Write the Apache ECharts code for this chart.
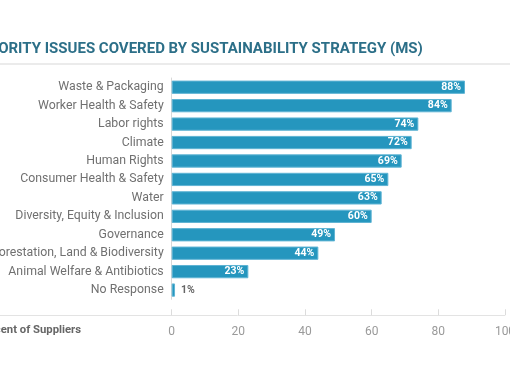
<!DOCTYPE html>
<html><head><meta charset="utf-8">
<script src="https://cdn.jsdelivr.net/npm/echarts@6/dist/echarts.min.js"></script>
<style>
html,body{margin:0;padding:0;width:510px;height:382px;overflow:hidden;background:#fff;}
#c{position:absolute;left:-30px;top:0;width:560px;height:382px;}
</style></head>
<body><div id="c"></div>
<script>
const titleText = 'PRIORITY ISSUES COVERED BY SUSTAINABILITY STRATEGY (MS)';
const axisName = 'Percent of Suppliers';
const categories = ['Waste & Packaging','Worker Health & Safety','Labor rights','Climate','Human Rights','Consumer Health & Safety','Water','Diversity, Equity & Inclusion','Governance','Deforestation, Land & Biodiversity','Animal Welfare & Antibiotics','No Response'];
const values = [88,84,74,72,69,65,63,60,49,44,23,1];
const xTicks = [0,20,40,60,80,100];

const chart = echarts.init(document.getElementById('c'));
const data = values.map(function(v, i){
  if (v < 5) {
    return {value: v, label: {position: 'right', color: '#666', distance: 6}};
  }
  return v;
});
chart.setOption({
  animation: false,
  textStyle: {fontFamily: 'Roboto'},
  grid: {left: 201.7, right: 25, top: 78, bottom: 82.7, containLabel: false},
  graphic: [
    {type: 'text', left: 4.5, top: 42, style: {text: titleText, fill: '#2c6f88', font: 'bold 15px Roboto'}},
    {type: 'line', shape: {x1: 0, y1: 64, x2: 560, y2: 64}, style: {stroke: '#ebebeb', lineWidth: 2}},
    {type: 'line', shape: {x1: 0, y1: 315.5, x2: 535, y2: 315.5}, style: {stroke: '#e3e3e3', lineWidth: 1}},
    {type: 'text', x: 111, y: 330, style: {text: axisName, fill: '#666', font: 'bold 11.3px Roboto', align: 'right', verticalAlign: 'middle'}}
  ],
  xAxis: {
    type: 'value', min: 0, max: 100, interval: 20, position: 'bottom', offset: 16,
    axisLine: {show: false},
    axisTick: {show: true, inside: true, length: 6, lineStyle: {color: '#dcdcdc'}},
    splitLine: {show: false},
    axisLabel: {color: '#9a9a9a', fontSize: 12, margin: 11, formatter: function(v){ return xTicks.indexOf(v) >= 0 ? String(v) : ''; }}
  },
  yAxis: {
    type: 'category', data: categories, inverse: true,
    axisLine: {show: true, lineStyle: {color: '#d8d8d8'}},
    axisTick: {show: false},
    axisLabel: {color: '#707070', fontSize: 12.3, margin: 8}
  },
  series: [{
    type: 'bar', data: data, barWidth: '72%',
    itemStyle: {color: '#2596be', borderColor: '#5fb4d4', borderWidth: 1},
    label: {show: true, position: 'insideRight', distance: 4, color: '#fff', fontSize: 10.5, fontWeight: 'bold', formatter: '{c}%'}
  }]
});
</script></body></html>
